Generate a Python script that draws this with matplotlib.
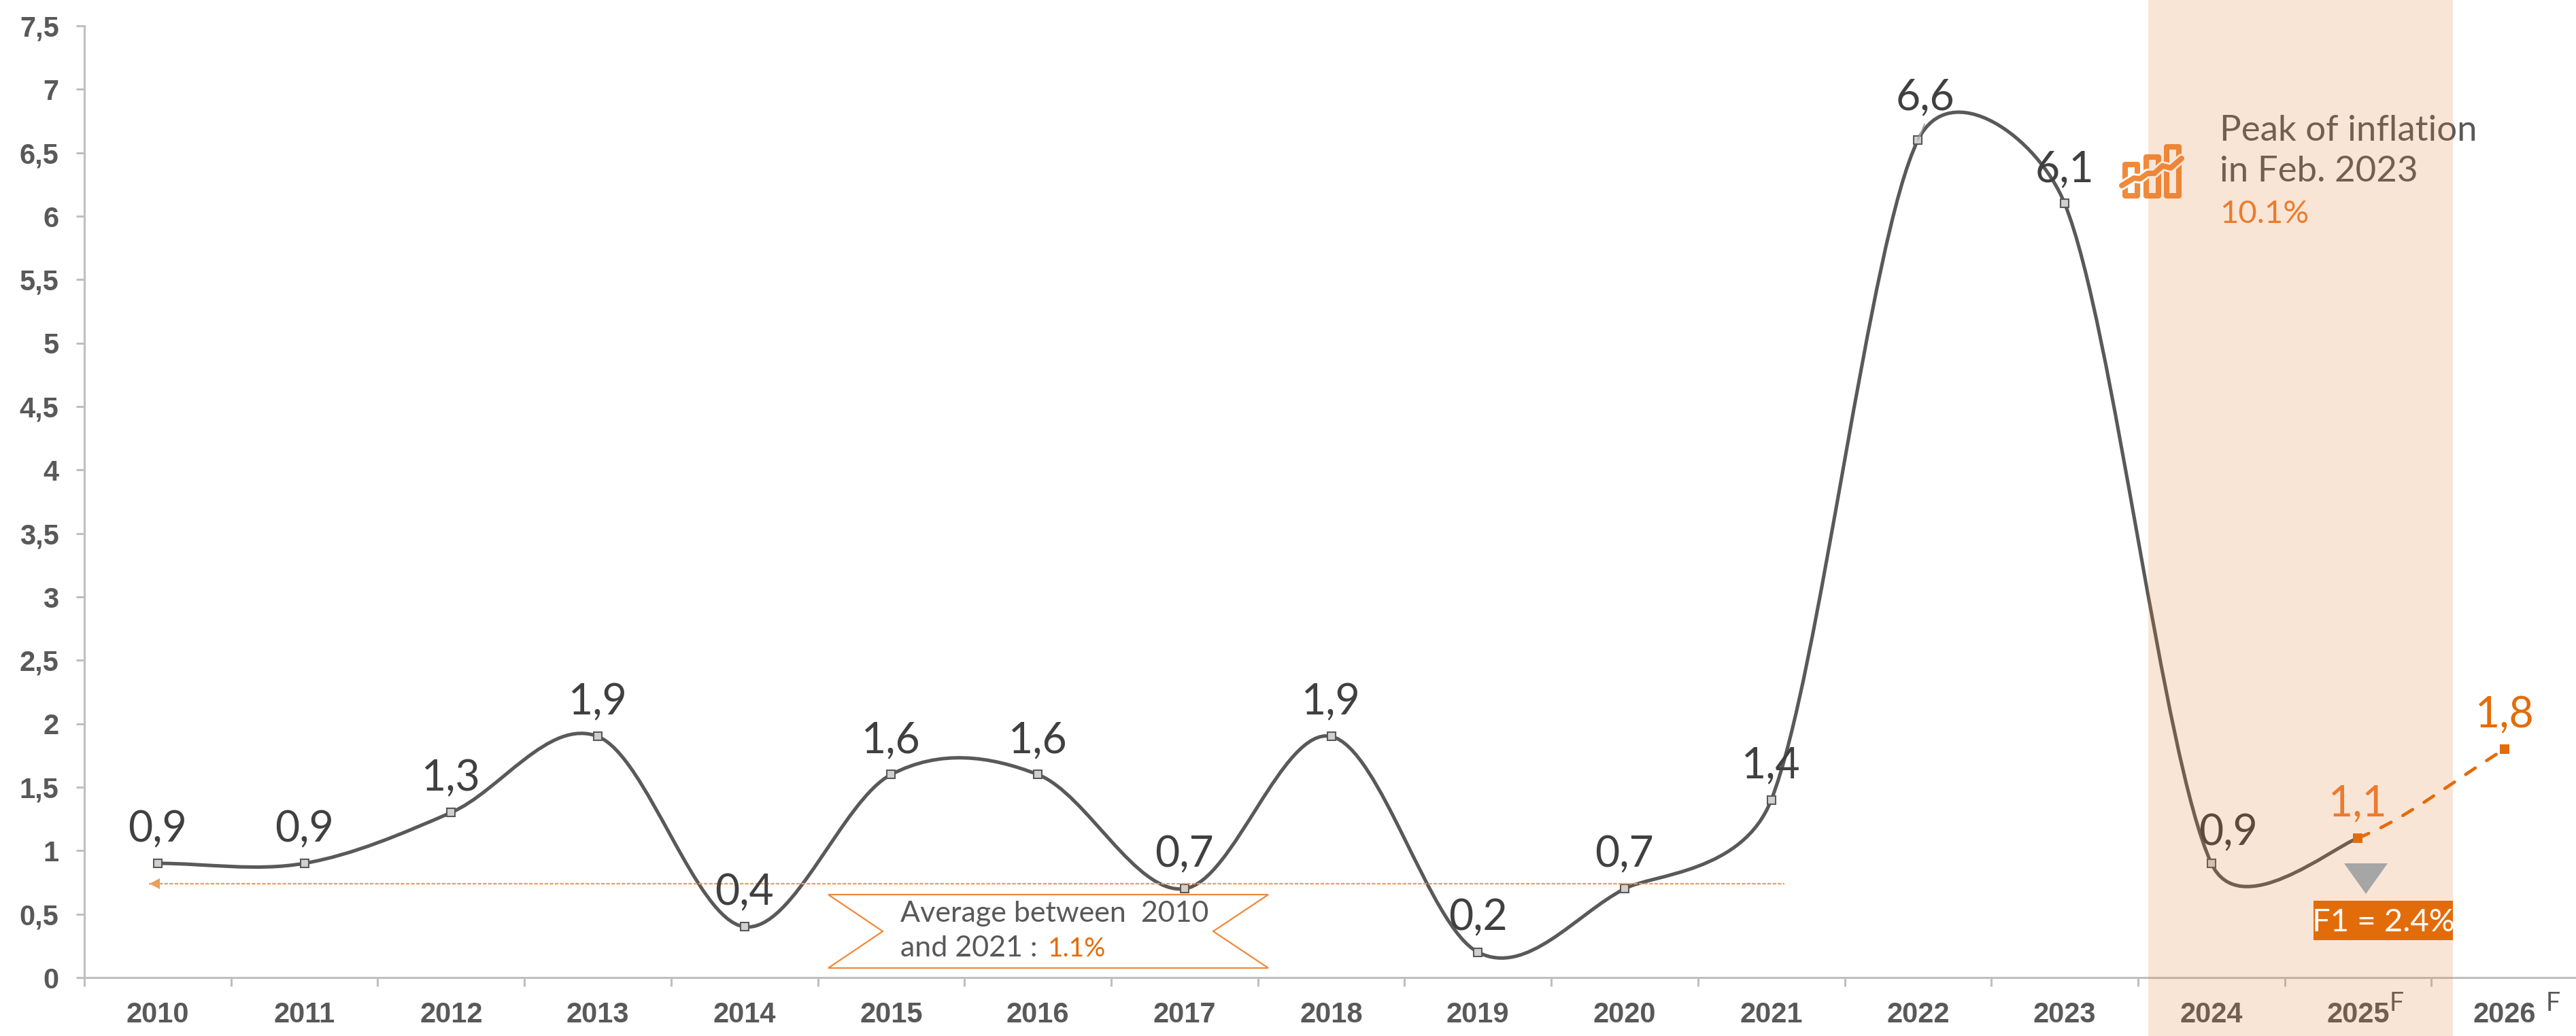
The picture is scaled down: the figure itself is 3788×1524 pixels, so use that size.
import numpy as np
import matplotlib.pyplot as plt
from matplotlib.path import Path
from matplotlib.patches import PathPatch, Polygon, Rectangle
from matplotlib.transforms import Affine2D

# Inflation, yearly average
years = ['2010', '2011', '2012', '2013', '2014', '2015', '2016', '2017', '2018',
         '2019', '2020', '2021', '2022', '2023', '2024', '2025', '2026']
inflation = [0.9, 0.9, 1.3, 1.9, 0.4, 1.6, 1.6, 0.7, 1.9, 0.2, 0.7, 1.4, 6.6, 6.1, 0.9, 1.1, 1.8]
value_labels = ['0,9', '0,9', '1,3', '1,9', '0,4', '1,6', '1,6', '0,7', '1,9',
                '0,2', '0,7', '1,4', '6,6', '6,1', '0,9', '1,1', '1,8']
y_ticks = [0, 0.5, 1, 1.5, 2, 2.5, 3, 3.5, 4, 4.5, 5, 5.5, 6, 6.5, 7, 7.5]
y_tick_labels = ['0', '0,5', '1', '1,5', '2', '2,5', '3', '3,5', '4', '4,5', '5', '5,5', '6', '6,5', '7', '7,5']
average_line = 0.74

GREY = '#595959'
DARK = '#404040'
AXIS = '#BFBFBF'
ORANGE = '#E36C0A'
LIGHT_ORANGE = '#ED7D31'
ICON = '#F08A3C'
SANS = 'Liberation Sans'
ROUND = 'Lato'

W, H = 3788, 1524
fig = plt.figure(figsize=(W / 100, H / 100), dpi=100)
ax = fig.add_axes([124 / W, (H - 1438) / H, (W - 124) / W, 1400 / H])
px = Affine2D().scale(1, -1).translate(0, H)  # pixel coords from the top left

x_scale = 215.7
y_scale = 1400 / 7.5
ax.set_xlim(-0.5, (W - 232) / x_scale)
ax.set_ylim(0, 7.5)

for side in ['top', 'right']:
    ax.spines[side].set_visible(False)
for side in ['left', 'bottom']:
    ax.spines[side].set_color(AXIS)
    ax.spines[side].set_linewidth(2.2)

ax.set_yticks(y_ticks)
ax.set_yticklabels(y_tick_labels, fontname=SANS, fontweight='bold', fontsize=30, color=GREY)
ax.tick_params(axis='y', length=9, width=2.2, color=AXIS, pad=18)

# ticks sit between the years, labels on the years
ax.set_xticks(np.arange(len(years)) - 0.5)
ax.set_xticklabels([])
ax.set_xticks(np.arange(len(years)), minor=True)
ax.set_xticklabels(years, minor=True, fontname=SANS, fontweight='bold', fontsize=30, color=GREY)
ax.tick_params(axis='x', which='major', length=9, width=2.2, color=AXIS)
ax.tick_params(axis='x', which='minor', length=0, pad=25)


def smooth_segments(xs, ys):
    # bezier control points the way a spreadsheet smooths its lines
    pts = np.column_stack([xs, ys], ).astype(float)
    scale = np.array([x_scale, y_scale * 1.15])
    out = []
    n = len(pts)
    for i in range(n - 1):
        p0 = pts[max(i - 1, 0)]
        p1 = pts[i]
        p2 = pts[i + 1]
        p3 = pts[min(i + 2, n - 1)]
        d02 = np.linalg.norm((p2 - p0) * scale)
        d12 = np.linalg.norm((p2 - p1) * scale)
        d13 = np.linalg.norm((p3 - p1) * scale)
        f = 1 / 3 if i == 0 else 1 / 6
        g = 1 / 3 if i == n - 2 else 1 / 6
        big1 = d02 / 6 >= d12 / 2
        big2 = d13 / 6 >= d12 / 2
        if big1 and big2:
            f = d12 / d02 / 2
            g = d12 / d13 / 2
        elif big1:
            f = d12 / d02 / 2
            g = d12 / d13 / 2 * (d13 / d02)
        elif big2:
            f = d12 / d02 / 2 * (d02 / d13)
            g = d12 / d13 / 2
        out.append((p1, p1 + f * (p2 - p0), p2 - g * (p3 - p1), p2))
    return out


segments = smooth_segments(range(len(years)), inflation)

verts = [segments[0][0]]
codes = [Path.MOVETO]
for s in segments[:-1]:
    verts += [s[1], s[2], s[3]]
    codes += [Path.CURVE4] * 3
ax.add_patch(PathPatch(Path(verts, codes), fill=False, edgecolor=GREY, lw=3.7, zorder=2, capstyle='round'))

# forecast part
last = segments[-1]
ax.add_patch(PathPatch(Path(list(last), [Path.MOVETO] + [Path.CURVE4] * 3), fill=False, edgecolor=ORANGE,
                       lw=3.4, zorder=4, linestyle=(0, (3.6, 4.2)), capstyle='round'))

ax.plot(range(len(years) - 2), inflation[:-2], linestyle='none', marker='s', ms=8, mfc='#D0D0D0',
        mec=GREY, mew=1.5, zorder=2.2)
ax.plot(range(len(years) - 2, len(years)), inflation[-2:], linestyle='none', marker='s', ms=9.5,
        color=ORANGE, mew=0, zorder=4)

# most labels sit straight above their point, two are moved off the line
label_offsets = {12: (8, 32), 14: (18, 19)}
for i, label in enumerate(value_labels):
    col = ORANGE if i == len(years) - 1 else (LIGHT_ORANGE if i == len(years) - 2 else DARK)
    ax.annotate(label, (i, inflation[i]), xytext=label_offsets.get(i, (0, 23)), textcoords='offset points',
                ha='center', va='baseline', fontname=ROUND, fontsize=45, color=col, zorder=2.6,
                annotation_clip=False)

# leader of the moved 2022 label
ax.annotate('', (12, inflation[12]), xytext=(7, 17), textcoords='offset points', zorder=2.3,
            arrowprops=dict(arrowstyle='-', color='#A6A6A6', lw=1.4, shrinkA=0, shrinkB=0))

# average line with its arrow
ax.plot([-0.06, 11.09], [average_line, average_line], color='#EE9C5A', lw=1.6, linestyle=(0, (2.4, 1)), zorder=2.5)
ax.add_patch(Polygon([(220, 1300), (235, 1292), (235, 1308)], closed=True, transform=px, color='#EA9F5E',
                     lw=0, zorder=2.5))

# ribbon holding the average
ax.add_patch(Polygon([(1218, 1316), (1865, 1316), (1784, 1370), (1865, 1424), (1218, 1424), (1298, 1370)],
                     closed=True, transform=px, fill=False, edgecolor='#F0883A', lw=1.6, zorder=2.4, clip_on=False))
ax.text(1324, 1356, 'Average between  2010', transform=px, fontname=ROUND, fontsize=31, color=GREY, va='baseline')
ax.text(1324, 1407, 'and 2021 : ', transform=px, fontname=ROUND, fontsize=31, color=GREY, va='baseline')
ax.text(1541, 1407, '1.1%', transform=px, fontname=ROUND, fontsize=28, color=ORANGE, va='baseline')

# peak note
ax.text(3264, 207, 'Peak of inflation', transform=px, fontname=ROUND, fontsize=38, color=GREY, va='baseline',
        zorder=2.9, clip_on=False)
ax.text(3264, 267, 'in Feb. 2023', transform=px, fontname=ROUND, fontsize=38, color=GREY, va='baseline',
        zorder=2.9, clip_on=False)
ax.text(3264, 328, '10.1%', transform=px, fontname=ROUND, fontsize=34, color=LIGHT_ORANGE, va='baseline',
        zorder=2.9, clip_on=False)

# small bars-and-line icon
for left, top in [(3121, 238), (3152, 227), (3182, 212)]:
    ax.add_patch(Rectangle((left + 4, top + 4), 17.5, 292 - top - 8, transform=px, fill=False,
                           edgecolor=ICON, lw=5.8, joinstyle='round', zorder=2.9, clip_on=False))
trend_x = [3120, 3138, 3147, 3158, 3168, 3180, 3192, 3208]
trend_y = [273, 262, 263, 255, 255, 244, 247, 233]
for colour, width in [('white', 10), (ICON, 5.8)]:
    ax.plot(trend_x, trend_y, transform=px, color=colour, lw=width, zorder=2.9, clip_on=False,
            solid_capstyle='round', solid_joinstyle='round')

# forecast superscripts
ax.text(3514, 1487, 'F', transform=px, fontname=ROUND, fontsize=27, color=GREY, va='baseline', zorder=2.9, clip_on=False)
ax.text(3744, 1487, 'F', transform=px, fontname=ROUND, fontsize=27, color=GREY, va='baseline', zorder=2.9, clip_on=False)

# shaded years, drawn over everything below it so it tints the text too
ax.axvspan((3159 - 232) / x_scale, (3607 - 232) / x_scale, ymin=-86 / 1400, ymax=1438 / 1400,
           color='#E07A28', alpha=0.19, lw=0, zorder=3, clip_on=False)

ax.add_patch(Polygon([(3447, 1270), (3511, 1270), (3479, 1315)], closed=True, transform=px, color='#A6A6A6',
                     lw=0, zorder=4))
ax.add_patch(Rectangle((3402, 1325), 205, 58, transform=px, color=ORANGE, lw=0, zorder=4))
ax.text(3504.5, 1370, 'F1 = 2.4%', transform=px, fontname=ROUND, fontsize=34, color='white', ha='center',
        va='baseline', zorder=5)

fig.savefig('out.png', dpi=100)
